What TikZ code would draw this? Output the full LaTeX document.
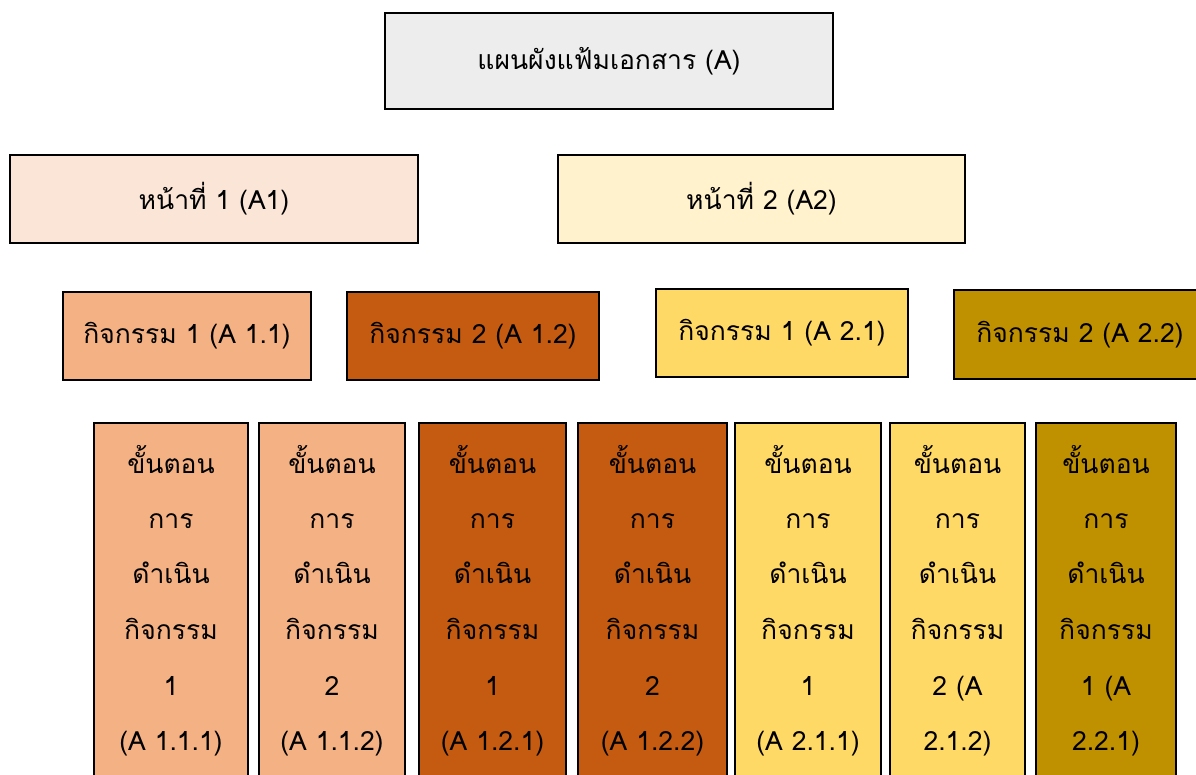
\documentclass[tikz,border=0pt]{standalone}
\usepackage{fontspec}
\setmainfont[Script=Thai]{Loma}
\definecolor{cTop}{HTML}{EDEDED}
\definecolor{cAone}{HTML}{FBE5D6}
\definecolor{cAtwo}{HTML}{FFF2CC}
\definecolor{cAoneone}{HTML}{F4B183}
\definecolor{cAonetwo}{HTML}{C55A11}
\definecolor{cAtwoone}{HTML}{FFD966}
\definecolor{cAtwotwo}{HTML}{BF9000}
\begin{document}
\begin{tikzpicture}[x=1pt,y=-1pt,
  box/.style={draw=black, line width=2.2pt, rectangle, inner sep=0pt, font=\fontsize{26.5}{30}\selectfont, text=black},
  linetext/.style={anchor=base, inner sep=0pt, font=\fontsize{26.5}{30}\selectfont, text=black}]
\useasboundingbox (0,0) rectangle (1196,775);
\clip (0,0) rectangle (1196,775);
\fill[white] (0,0) rectangle (1196,775);
% top
\node[box, fill=cTop, minimum width=448pt, minimum height=96pt] (top) at (609,61) {แผนผังแฟ้มเอกสาร (A)};
% level 2
\node[box, fill=cAone, minimum width=408pt, minimum height=88pt] (a1) at (214,199) {หน้าที่ 1 (A1)};
\node[box, fill=cAtwo, minimum width=407pt, minimum height=88pt] (a2) at (761.5,199) {หน้าที่ 2 (A2)};
% level 3
\node[box, fill=cAoneone, minimum width=248pt, minimum height=88pt] (a11) at (187,336) {กิจกรรม 1 (A 1.1)};
\node[box, fill=cAonetwo, minimum width=252pt, minimum height=88pt] (a12) at (473,336) {กิจกรรม 2 (A 1.2)};
\node[box, fill=cAtwoone, minimum width=252pt, minimum height=88pt] (a21) at (782,333) {กิจกรรม 1 (A 2.1)};
\node[box, fill=cAtwotwo, minimum width=252pt, minimum height=89pt] (a22) at (1080,334.5) {กิจกรรม 2 (A 2.2)};
% level 4 columns
\foreach \i/\cx/\w/\col/\la/\lb in {
  1/171/154/cAoneone/1/(A 1.1.1),
  2/332/146/cAoneone/2/(A 1.1.2),
  3/492.5/147/cAonetwo/1/(A 1.2.1),
  4/652.5/149/cAonetwo/2/(A 1.2.2),
  5/808/146/cAtwoone/1/(A 2.1.1),
  6/957.5/135/cAtwoone/2 (A/2.1.2),
  7/1106/140/cAtwotwo/1 (A/2.2.1)}{
  \node[box, fill=\col, minimum width=\w pt, minimum height=376pt] (col\i) at (\cx,611) {};
  \node[linetext] (col\i l1) at (\cx,473) {ขั้นตอน};
  \node[linetext] (col\i l2) at (\cx,528) {การ};
  \node[linetext] (col\i l3) at (\cx,583) {ดำเนิน};
  \node[linetext] (col\i l4) at (\cx,639) {กิจกรรม};
  \node[linetext] (col\i l5) at (\cx,695) {\la};
  \node[linetext] (col\i l6) at (\cx,750) {\lb};
}
\end{tikzpicture}
\end{document}
